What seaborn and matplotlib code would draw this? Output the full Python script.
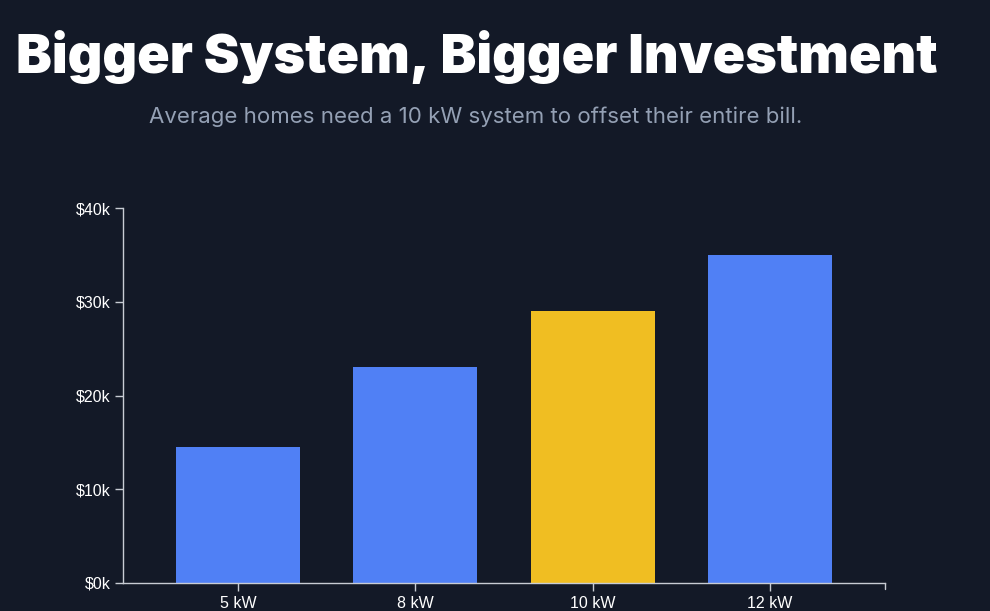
import matplotlib
matplotlib.use("Agg")
import matplotlib.pyplot as plt
import pandas as pd
import seaborn as sns
from matplotlib.ticker import FuncFormatter

# chart data
systems = ["5 kW", "8 kW", "10 kW", "12 kW"]
costs = [14500, 23000, 29000, 35000]
highlight = "10 kW"
y_ticks = [0, 10000, 20000, 30000, 40000]

BG = "#131927"
BLUE = "#5080f5"
GOLD = "#f0be22"
AXIS = "#c8ccd4"

sns.set_style("dark")
plt.rcParams["font.family"] = ["Liberation Sans", "DejaVu Sans"]

df = pd.DataFrame({"system": systems, "cost": costs})
palette = {s: (GOLD if s == highlight else BLUE) for s in systems}

fig = plt.figure(figsize=(9.9, 6.11), dpi=100, facecolor=BG)
ax = fig.add_axes([123 / 990, 28 / 611, 762 / 990, 375 / 611])
ax.set_facecolor(BG)

sns.barplot(data=df, x="system", y="cost", hue="system", palette=palette,
            width=0.7, legend=False, saturation=1, linewidth=0, edgecolor="none", ax=ax)

ax.set_xlim(-0.65, 3.65)
ax.set_ylim(0, 40000)
ax.set_yticks(y_ticks)
ax.yaxis.set_major_formatter(FuncFormatter(lambda v, _: f"${int(v / 1000)}k"))
ax.set_xlabel("")
ax.set_ylabel("")
ax.grid(False)

for side in ["top", "right"]:
    ax.spines[side].set_visible(False)
for side in ["left", "bottom"]:
    ax.spines[side].set_color(AXIS)
    ax.spines[side].set_linewidth(1)

ax.tick_params(axis="both", colors=AXIS, length=6, width=1, labelsize=11.5,
               labelcolor="white", pad=3, direction="out", bottom=True, left=True)

# outer tick at the right end of the x axis
ax.plot([1, 1], [0, -0.016], transform=ax.transAxes, color=AXIS, lw=1, clip_on=False)

fig.text(16 / 990, 1 - 73 / 611, "Bigger System, Bigger Investment",
         family=["Inter", "DejaVu Sans"], fontweight="black", fontsize=38.7,
         color="white", ha="left", va="baseline")
fig.text(476 / 990, 1 - 123 / 611, "Average homes need a 10 kW system to offset their entire bill.",
         family=["Inter", "DejaVu Sans"], fontsize=16, color="#94a0b4",
         ha="center", va="baseline")

fig.savefig("out.png", dpi=100, facecolor=BG)
